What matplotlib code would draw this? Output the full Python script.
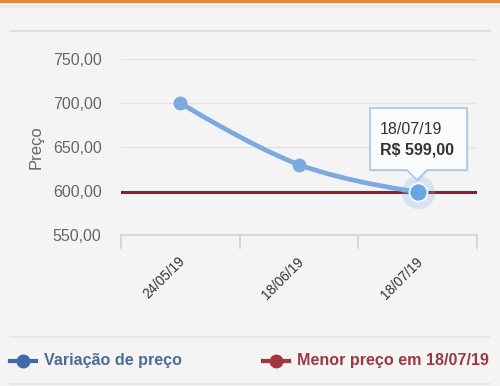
import matplotlib
matplotlib.use("Agg")
import matplotlib.pyplot as plt
from matplotlib.path import Path
from matplotlib.patches import PathPatch, Polygon
from matplotlib.lines import Line2D

plt.rcParams['font.family'] = ['Liberation Sans', 'DejaVu Sans']

# ---- data ----
dates = ["24/05/19", "18/06/19", "18/07/19"]
prices = [700.0, 630.0, 599.0]
lowest_price = 599.0
yticks = [550, 600, 650, 700, 750]
ytick_labels = ["550,00", "600,00", "650,00", "700,00", "750,00"]
series_names = ["Variação de preço", "Menor preço em 18/07/19"]
tooltip_date = "18/07/19"
tooltip_value = "R$ 599,00"

W, H = 500, 386
BG = '#f4f4f4'
fig = plt.figure(figsize=(W / 100, H / 100), dpi=100, facecolor=BG)

def fx(px):
    return px / W

def fy(py):
    return 1 - py / H

# decoration lines (top bar, separators)
fig.add_artist(Line2D([0, 1], [fy(1), fy(1)], color='#e5893e', lw=2.2, transform=fig.transFigure))
fig.add_artist(Line2D([0, 1], [fy(6), fy(6)], color='#f6e6dc', lw=2, transform=fig.transFigure))
fig.add_artist(Line2D([fx(10), fx(490)], [fy(31), fy(31)], color='#dedede', lw=1.5, transform=fig.transFigure))
fig.add_artist(Line2D([fx(10), fx(490)], [fy(337), fy(337)], color='#e4e4e4', lw=1.2, transform=fig.transFigure))
fig.add_artist(Line2D([fx(10), fx(490)], [fy(384), fy(384)], color='#e4e4e4', lw=1.2, transform=fig.transFigure))

# plot area
left, right, top, bottom = 121, 477, 59, 235
ax = fig.add_axes([fx(left), fy(bottom), fx(right) - fx(left), fy(top) - fy(bottom)])
ax.set_facecolor(BG)
ax.set_xlim(-0.5, len(dates) - 0.5)
ax.set_ylim(yticks[0], yticks[-1])
for s in ['top', 'right', 'left']:
    ax.spines[s].set_visible(False)
ax.spines['bottom'].set_color('#ccd2dc')
ax.spines['bottom'].set_linewidth(1.2)

ax.set_yticks(yticks)
ax.set_yticklabels(ytick_labels, fontsize=11.5, color='#666666')
ax.tick_params(axis='y', length=0, pad=14)
for yv in yticks[1:]:
    ax.axhline(yv, color='#e3e3e3', lw=1, zorder=0)

xs = list(range(len(dates)))
ax.set_xticks([x - 0.5 for x in range(len(dates) + 1)])
ax.set_xticklabels([])
ax.tick_params(axis='x', length=10, color='#ccd2dc', width=1.2)
for x, d in zip(xs, dates):
    ax.text(x - 0.02, yticks[0] - 22, d, rotation=45, ha='right', va='top',
            rotation_mode='anchor', fontsize=9.8, color='#333333')

ax.set_ylabel("Preço", fontsize=12, color='#666666')
ax.yaxis.set_label_coords(-(left - 44) / (right - left), 0.5 - (147 - (top + bottom) / 2) / (bottom - top))

# lowest price line
ax.axhline(lowest_price, color='#8e1f2f', lw=2.2, zorder=2)

# Highcharts-like spline through the points
smoothing, denom = 1.5, 2.5
pts = list(zip(xs, prices))
left_c, right_c = {}, {}
for i in range(1, len(pts) - 1):
    (lx, ly), (px, py), (nx, ny) = pts[i - 1], pts[i], pts[i + 1]
    lcx, lcy = (smoothing * px + lx) / denom, (smoothing * py + ly) / denom
    rcx, rcy = (smoothing * px + nx) / denom, (smoothing * py + ny) / denom
    corr = ((rcy - lcy) * (rcx - px)) / (rcx - lcx) + py - rcy
    left_c[i] = (lcx, lcy + corr)
    right_c[i] = (rcx, rcy + corr)
verts = [pts[0]]
codes = [Path.MOVETO]
for i in range(1, len(pts)):
    c1 = right_c.get(i - 1, pts[i - 1])
    c2 = left_c.get(i, pts[i])
    verts += [c1, c2, pts[i]]
    codes += [Path.CURVE4] * 3
ax.add_patch(PathPatch(Path(verts, codes), fill=False, edgecolor='#7ba9e0', lw=3.4,
                       capstyle='round', joinstyle='round', zorder=3))
ax.plot(xs[:-1], prices[:-1], 'o', color='#7ba9e0', ms=9, zorder=4)
# hovered point with halo
ax.plot([xs[-1]], [prices[-1]], 'o', color='#7cb5ec', ms=24, alpha=0.25, mec='none', zorder=4)
ax.plot([xs[-1]], [prices[-1]], 'o', color='#6aa6e6', ms=13, mec='#ffffff', mew=1.2, zorder=5)

# tooltip
tx0, tx1, ty0, ty1 = 370, 467, 108, 170
tip = [(tx0, ty0), (tx1, ty0), (tx1, ty1), (427, ty1), (417, 180), (407, ty1), (tx0, ty1)]
shadow = Polygon([(fx(x + 1.5), fy(y + 1.5)) for x, y in tip], closed=True,
                 transform=fig.transFigure, facecolor='#000000', alpha=0.08, edgecolor='none', zorder=9)
fig.add_artist(shadow)
poly = Polygon([(fx(x), fy(y)) for x, y in tip], closed=True, transform=fig.transFigure,
               facecolor='#f9fbfd', edgecolor='#a6c7ea', lw=1.2, zorder=10)
fig.add_artist(poly)
fig.text(fx(380), fy(130), tooltip_date, fontsize=11.5, color='#333333', va='center', ha='left', zorder=11)
fig.text(fx(380), fy(150), tooltip_value, fontsize=11.5, color='#333333', fontweight='bold',
         va='center', ha='left', zorder=11)

# legend
ly = 361
fig.add_artist(Line2D([fx(10), fx(36)], [fy(ly), fy(ly)], color='#3f68ad', lw=3, transform=fig.transFigure))
fig.add_artist(Line2D([fx(23)], [fy(ly)], marker='o', ms=9, color='#3f68ad', transform=fig.transFigure))
fig.text(fx(44), fy(ly), series_names[0], fontsize=11.6, fontweight='bold', color='#4f6b97', va='center')
fig.add_artist(Line2D([fx(263), fx(289)], [fy(ly), fy(ly)], color='#a23540', lw=3, transform=fig.transFigure))
fig.add_artist(Line2D([fx(276)], [fy(ly)], marker='o', ms=9, color='#a23540', transform=fig.transFigure))
fig.text(fx(297), fy(ly), series_names[1], fontsize=11.6, fontweight='bold', color='#9a3a45', va='center')

fig.savefig('out.png', dpi=100, facecolor=BG)
